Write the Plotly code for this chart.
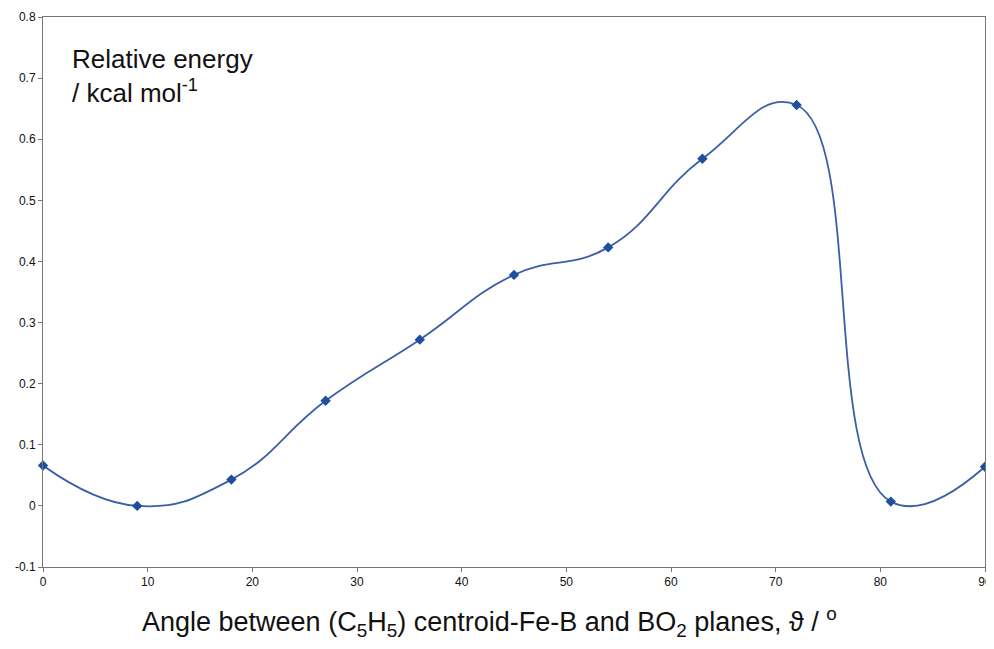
import plotly.graph_objects as go

angles = [0, 9, 18, 27, 36, 45, 54, 63, 72, 81, 90]
energy = [0.066, 0.0, 0.043, 0.172, 0.272, 0.378, 0.423, 0.568, 0.656, 0.007, 0.064]

x_ticks = [0, 10, 20, 30, 40, 50, 60, 70, 80, 90]
y_ticks = [-0.1, 0, 0.1, 0.2, 0.3, 0.4, 0.5, 0.6, 0.7, 0.8]
y_ticktext = ["-0.1", "0", "0.1", "0.2", "0.3", "0.4", "0.5", "0.6", "0.7", "0.8"]

fig = go.Figure()
fig.add_trace(go.Scatter(
    x=angles, y=energy, mode="lines+markers",
    line=dict(color="#3b5ea6", width=1.8, shape="spline", smoothing=1.3),
    marker=dict(symbol="diamond", size=8, color="#1f4f9c"),
    showlegend=False, cliponaxis=False,
))

fig.update_layout(
    width=982, height=641,
    margin=dict(l=35, r=5, t=9, b=82),
    paper_bgcolor="white", plot_bgcolor="white",
    font=dict(family="Liberation Sans, Arial, sans-serif", color="#222"),
    xaxis=dict(
        range=[0, 90], tickvals=x_ticks, showgrid=False, zeroline=False,
        showline=True, linecolor="#777", linewidth=1, mirror=True,
        ticks="outside", ticklen=4, tickcolor="#777",
        tickfont=dict(size=12, color="#111"),
        ticklabeloverflow="allow", automargin=False,
    ),
    yaxis=dict(
        range=[-0.1, 0.8], tickvals=y_ticks, ticktext=y_ticktext,
        showgrid=False, zeroline=False, automargin=False,
        showline=True, linecolor="#777", linewidth=1, mirror=True,
        ticks="outside", ticklen=4, tickcolor="#777",
        tickfont=dict(size=12, color="#111"),
    ),
    annotations=[
        dict(
            x=0.029, y=0.955, xref="paper", yref="paper", xanchor="left", yanchor="top",
            align="left", showarrow=False,
            text="Relative energy<br>/ kcal mol<sup>-1</sup>",
            font=dict(size=26, color="#111"),
        ),
        dict(
            x=0.474, y=-0.1, xref="paper", yref="paper", xanchor="center", yanchor="middle",
            showarrow=False,
            text="Angle between (C<sub>5</sub>H<sub>5</sub>) centroid-Fe-B and BO<sub>2</sub> planes, ϑ / <sup>o</sup>",
            font=dict(size=27, color="#111"),
        ),
    ],
)

fig.write_html("out.html")
